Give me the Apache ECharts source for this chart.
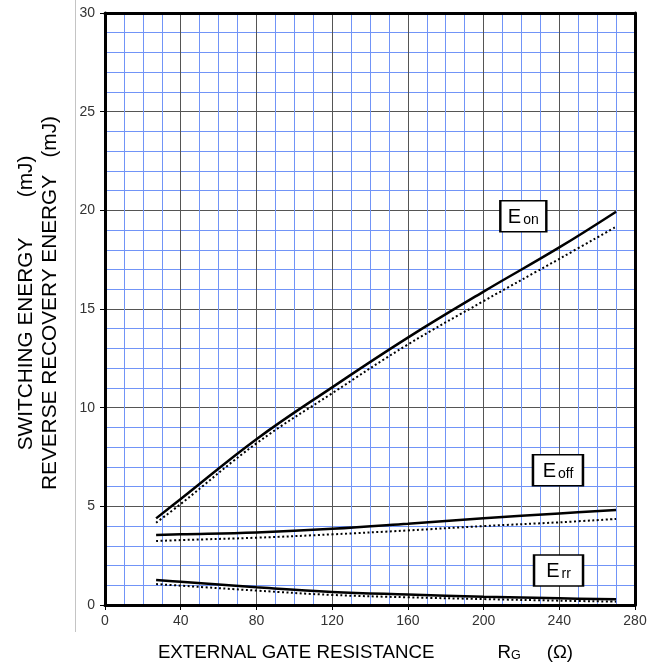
<!DOCTYPE html>
<html>
<head>
<meta charset="utf-8">
<script src="https://cdn.jsdelivr.net/npm/echarts@6/dist/echarts.min.js"></script>
<style>
  html, body { margin: 0; padding: 0; background: #fff; }
  #chart { width: 658px; height: 664px; }
</style>
</head>
<body>
<div id="chart"></div>
<script>
// gate resistance (ohm) and energies (mJ)
var rg = [27, 40, 80, 120, 160, 200, 240, 270];
var eonSolid = [4.39, 5.37, 8.40, 11.03, 13.55, 15.88, 18.12, 19.93];
var eonDotted = [4.17, 5.12, 8.19, 10.73, 13.20, 15.40, 17.54, 19.17];
var eoffSolid = [3.55, 3.58, 3.68, 3.86, 4.12, 4.40, 4.64, 4.81];
var eoffDotted = [3.24, 3.29, 3.41, 3.58, 3.78, 4.00, 4.19, 4.36];
var errSolid = [1.27, 1.18, 0.90, 0.66, 0.53, 0.42, 0.34, 0.29];
var errDotted = [1.06, 0.98, 0.73, 0.51, 0.39, 0.30, 0.22, 0.17];

var FONT = "'Liberation Sans', Arial, sans-serif";
var BLUE = '#7194f7';
var MAJOR = '#555555';

function pairs(ys) {
  var out = [];
  for (var i = 0; i < rg.length; i++) out.push([rg[i], ys[i]]);
  return out;
}

var boxLabel = function (main, sub, coord, w) {
  return {
    symbol: 'rect',
    symbolSize: [w, 31],
    itemStyle: { color: '#fff', borderColor: '#000', borderWidth: 2 },
    label: {
      show: true,
      position: 'inside',
      formatter: '{e|' + main + '}{s|' + sub + '}',
      rich: {
        e: { fontFamily: FONT, fontSize: 20, color: '#000', verticalAlign: 'bottom', lineHeight: 22 },
        s: { fontFamily: FONT, fontSize: 14, color: '#000', verticalAlign: 'bottom', lineHeight: 16, padding: [0, 0, 0, 2] }
      }
    },
    data: [{ coord: coord }]
  };
};

function solid(name, ys, mark) {
  return {
    name: name, type: 'line', data: pairs(ys), smooth: 0.4,
    symbol: 'none', z: 3,
    lineStyle: { color: '#000', width: 2.5, type: 'solid' },
    markPoint: mark
  };
}
function dotted(name, ys) {
  return {
    name: name, type: 'line', data: pairs(ys), smooth: 0.4,
    symbol: 'none', z: 3,
    lineStyle: { color: '#000', width: 2, type: [2, 2.5] }
  };
}

var chart = echarts.init(document.getElementById('chart'), null, { renderer: 'canvas' });

var option = {
  backgroundColor: '#fff',
  animation: false,
  textStyle: { fontFamily: FONT },
  grid: { left: 105, right: 23, top: 13, bottom: 59, containLabel: false, outerBoundsMode: 'none' },
  graphic: [{
    type: 'line', silent: true,
    shape: { x1: 75.5, y1: 0, x2: 75.5, y2: 632 },
    style: { stroke: '#c4c4c4', lineWidth: 1 }
  }],
  xAxis: [{
    type: 'value', min: 0, max: 280, interval: 40,
    axisLine: { show: true, onZero: false, lineStyle: { color: '#000', width: 3 } },
    axisTick: { show: true, inside: false, length: 5, lineStyle: { color: '#000', width: 1 } },
    axisLabel: { color: '#333', fontSize: 14, margin: 9, fontFamily: FONT },
    splitLine: { show: true, lineStyle: { color: MAJOR, width: 1 } },
    minorTick: { show: false, splitNumber: 4 },
    minorSplitLine: { show: true, lineStyle: { color: BLUE, width: 1 } },
    name: '{t|EXTERNAL GATE RESISTANCE}{r|R}{g|G}{p|(Ω)}',
    nameLocation: 'middle', nameGap: 33,
    nameTextStyle: {
      rich: {
        t: { fontFamily: FONT, fontSize: 18.7, color: '#000', verticalAlign: 'bottom', lineHeight: 24 },
        r: { fontFamily: FONT, fontSize: 18.7, color: '#000', verticalAlign: 'bottom', lineHeight: 24, padding: [0, 0, 0, 63] },
        g: { fontFamily: FONT, fontSize: 12.5, color: '#000', verticalAlign: 'bottom', lineHeight: 18 },
        p: { fontFamily: FONT, fontSize: 18.7, color: '#000', verticalAlign: 'bottom', lineHeight: 24, padding: [0, 9, 0, 26] }
      }
    }
  }, {
    type: 'value', position: 'top', min: 0, max: 280, interval: 40, z: 5,
    axisLine: { show: true, onZero: false, lineStyle: { color: '#000', width: 3 } },
    axisTick: { show: false }, axisLabel: { show: false }, splitLine: { show: false }
  }],
  yAxis: [{
    type: 'value', min: 0, max: 30, interval: 5,
    axisLine: { show: true, onZero: false, lineStyle: { color: '#000', width: 3 } },
    axisTick: { show: true, inside: false, length: 5, lineStyle: { color: '#000', width: 1 } },
    axisLabel: { color: '#333', fontSize: 14, margin: 10, fontFamily: FONT },
    splitLine: { show: true, lineStyle: { color: MAJOR, width: 1 } },
    minorTick: { show: false, splitNumber: 5 },
    minorSplitLine: { show: true, lineStyle: { color: BLUE, width: 1 } },
    name: 'SWITCHING ENERGY       (mJ)\nREVERSE RECOVERY ENERGY   (mJ)',
    nameLocation: 'middle', nameRotate: 90, nameGap: 43,
    nameTextStyle: { fontFamily: FONT, fontSize: 20.8, color: '#000', lineHeight: 24, align: 'center', padding: [0, 0, 0, 12] }
  }, {
    type: 'value', position: 'right', min: 0, max: 30, interval: 5, z: 5,
    axisLine: { show: true, onZero: false, lineStyle: { color: '#000', width: 3 } },
    axisTick: { show: false }, axisLabel: { show: false }, splitLine: { show: false }
  }],
  series: [
    solid('Eon', eonSolid, boxLabel('E', 'on', [221, 19.7], 46)),
    dotted('Eon dotted', eonDotted),
    solid('Eoff', eoffSolid, boxLabel('E', 'off', [239.3, 6.83], 50)),
    dotted('Eoff dotted', eoffDotted),
    solid('Err', errSolid, boxLabel('E', 'rr', [239.6, 1.75], 49)),
    dotted('Err dotted', errDotted)
  ]
};

chart.setOption(option);
</script>
</body>
</html>
